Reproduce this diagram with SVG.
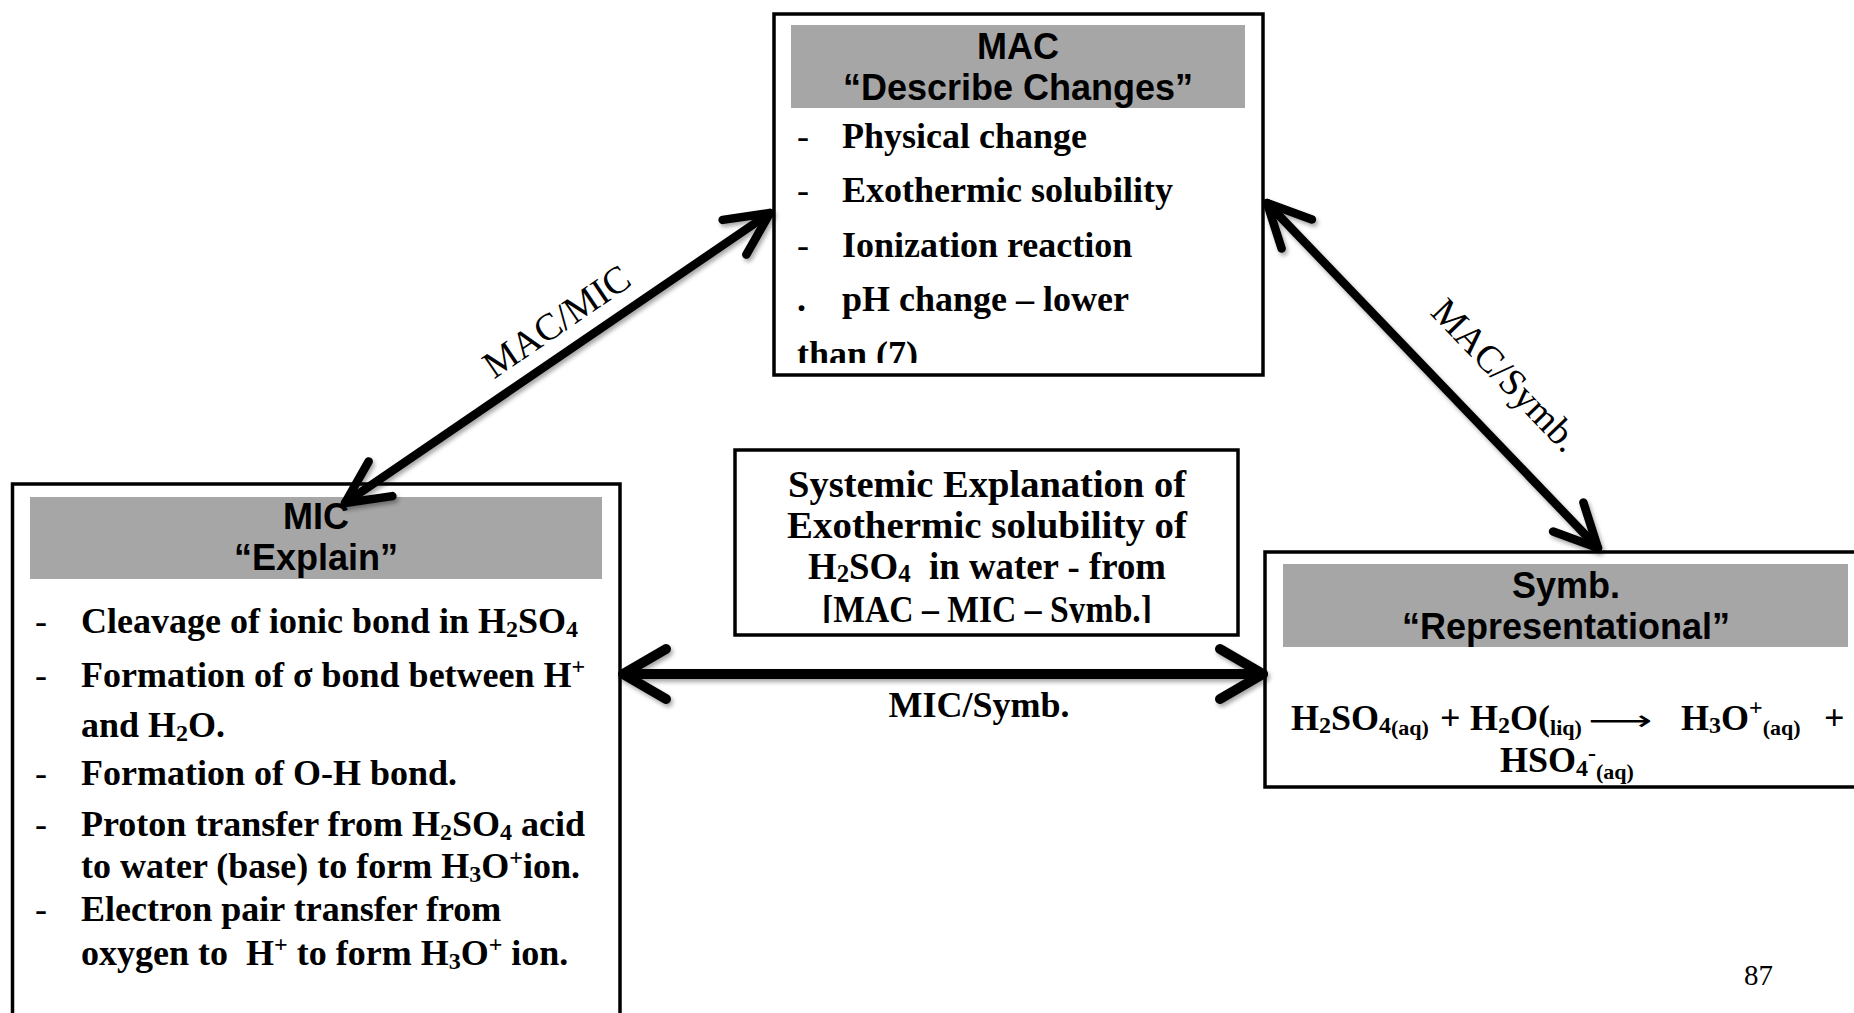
<svg xmlns="http://www.w3.org/2000/svg" width="1854" height="1013" viewBox="0 0 1854 1013">
  <defs>
    <style>
      .box{fill:#fff;stroke:#000;stroke-width:3.5}
      .hdr{fill:#a6a6a6}
      .ht{font-family:"Liberation Sans",Arial,sans-serif;font-weight:bold;font-size:36px;text-anchor:middle;fill:#000}
      .b{font-family:"Liberation Serif","Times New Roman",serif;font-weight:bold;font-size:36px;fill:#000;white-space:pre}
      .dash{font-family:"Liberation Serif","Times New Roman",serif;font-size:36px;fill:#000}
      .sub{font-size:24px}
      .sm{font-size:22px}
      .lbl{font-family:"Liberation Serif","Times New Roman",serif;font-size:38px;fill:#000;text-anchor:middle}
      .cx{font-family:"Liberation Serif","Times New Roman",serif;font-weight:bold;font-size:38.5px;fill:#000;text-anchor:middle;white-space:pre}
      .cxs{font-size:26px}
      .conn{fill:none;stroke:#000;stroke-linecap:round;stroke-linejoin:round}
      .arw{font-family:"DejaVu Sans",sans-serif;font-size:28px;fill:#000}
      .pg{font-family:"Liberation Serif","Times New Roman",serif;font-size:29px;fill:#000}
    </style>
    <!-- open chevron heads for the diagonal and horizontal double arrows -->
    <marker id="head-d" markerUnits="userSpaceOnUse" orient="auto-start-reverse" refX="0" refY="0" markerWidth="1" markerHeight="1" overflow="visible">
      <path d="M-43,-21 L0,0 L-43,21" fill="none" stroke="#000" stroke-width="8.5" stroke-linecap="round" stroke-linejoin="round"/>
    </marker>
    <marker id="head-h" markerUnits="userSpaceOnUse" orient="auto-start-reverse" refX="0" refY="0" markerWidth="1" markerHeight="1" overflow="visible">
      <path d="M-43,-25 L0,0 L-43,25" fill="none" stroke="#000" stroke-width="10" stroke-linecap="round" stroke-linejoin="round"/>
    </marker>
    <filter id="shadow" filterUnits="userSpaceOnUse" x="0" y="0" width="1854" height="1013">
      <feDropShadow dx="2" dy="3" stdDeviation="2" flood-color="#000" flood-opacity="0.35"/>
    </filter>
    <!-- text frames that cut off their overflowing last line -->
    <clipPath id="clip-mac"><rect x="774" y="14" width="489" height="349"/></clipPath>
    <clipPath id="clip-sys"><rect x="735" y="450" width="503" height="173"/></clipPath>
  </defs>

  <rect x="0" y="0" width="1854" height="1013" fill="#fff"/>

  <!-- Macroscopic level -->
  <g id="node-mac">
    <rect class="box" x="774" y="14" width="489" height="361"/>
    <rect class="hdr" x="791" y="25" width="454" height="83"/>
    <text class="ht" x="1018" y="59">MAC</text>
    <text class="ht" x="1018" y="100">“Describe Changes”</text>
    <g clip-path="url(#clip-mac)">
      <text class="dash" x="797" y="148">-</text>
      <text class="b" x="842" y="148">Physical change</text>
      <text class="dash" x="797" y="202">-</text>
      <text class="b" x="842" y="202">Exothermic solubility</text>
      <text class="dash" x="797" y="257">-</text>
      <text class="b" x="842" y="257">Ionization reaction</text>
      <text class="b" x="797" y="311">.</text>
      <text class="b" x="842" y="311">pH change – lower</text>
      <text class="b" x="797" y="366">than (7)</text>
    </g>
  </g>

  <!-- Microscopic level -->
  <g id="node-mic">
    <rect class="box" x="12.5" y="484" width="607.5" height="600"/>
    <rect class="hdr" x="30" y="497" width="572" height="82"/>
    <text class="ht" x="316" y="529">MIC</text>
    <text class="ht" x="316" y="570">“Explain”</text>
    <text class="dash" x="35" y="633">-</text>
    <text class="b" x="81" y="633">Cleavage of ionic bond in H<tspan class="sub" dy="4">2</tspan><tspan dy="-4">SO</tspan><tspan class="sub" dy="4">4</tspan></text>
    <text class="dash" x="35" y="687">-</text>
    <text class="b" x="81" y="687">Formation of σ bond between H<tspan class="sub" dy="-13">+</tspan></text>
    <text class="b" x="81" y="737">and H<tspan class="sub" dy="4">2</tspan><tspan dy="-4">O.</tspan></text>
    <text class="dash" x="35" y="785">-</text>
    <text class="b" x="81" y="785">Formation of O-H bond.</text>
    <text class="dash" x="35" y="836">-</text>
    <text class="b" x="81" y="836">Proton transfer from H<tspan class="sub" dy="4">2</tspan><tspan dy="-4">SO</tspan><tspan class="sub" dy="4">4</tspan><tspan dy="-4"> acid</tspan></text>
    <text class="b" x="81" y="878">to water (base) to form H<tspan class="sub" dy="4">3</tspan><tspan dy="-4">O</tspan><tspan class="sub" dy="-13">+</tspan><tspan dy="13">ion.</tspan></text>
    <text class="dash" x="35" y="921">-</text>
    <text class="b" x="81" y="921">Electron pair transfer from</text>
    <text class="b" x="81" y="965">oxygen to  H<tspan class="sub" dy="-13">+</tspan><tspan dy="13"> to form H</tspan><tspan class="sub" dy="4">3</tspan><tspan dy="-4">O</tspan><tspan class="sub" dy="-13">+</tspan><tspan dy="13"> ion.</tspan></text>
  </g>

  <!-- Systemic explanation -->
  <g id="node-systemic">
    <rect class="box" x="735" y="450" width="503" height="185"/>
    <g clip-path="url(#clip-sys)">
      <text class="cx" x="987" y="497" textLength="398" lengthAdjust="spacingAndGlyphs">Systemic Explanation of</text>
      <text class="cx" x="987" y="538" textLength="400" lengthAdjust="spacingAndGlyphs">Exothermic solubility of</text>
      <text class="cx" x="987" y="579" textLength="358" lengthAdjust="spacingAndGlyphs">H<tspan class="cxs" dy="3">2</tspan><tspan dy="-3">SO</tspan><tspan class="cxs" dy="3">4</tspan><tspan dy="-3">  in water - from</tspan></text>
      <text class="cx" x="987" y="622" textLength="330" lengthAdjust="spacingAndGlyphs">[MAC – MIC – Symb.]</text>
    </g>
  </g>

  <!-- Symbolic level -->
  <g id="node-symb">
    <rect class="box" x="1265" y="552" width="700" height="235"/>
    <rect class="hdr" x="1283" y="564" width="565" height="83"/>
    <text class="ht" x="1566" y="598">Symb.</text>
    <text class="ht" x="1566" y="639">“Representational”</text>
    <text class="b"><tspan x="1291" y="730">H</tspan><tspan class="sub" y="733">2</tspan><tspan y="730">SO</tspan><tspan class="sub" y="733">4</tspan><tspan class="sm" y="735">(aq)</tspan><tspan x="1440" y="730">+</tspan><tspan x="1470" y="730">H</tspan><tspan class="sub" y="733">2</tspan><tspan y="730">O(</tspan><tspan class="sm" y="735">liq)</tspan><tspan x="1681" y="730">H</tspan><tspan class="sub" y="733">3</tspan><tspan y="730">O</tspan><tspan class="sub" y="715">+</tspan><tspan class="sm" y="735">(aq)</tspan><tspan x="1824" y="730">+</tspan></text>
    <text class="arw" x="1588" y="730" textLength="64" lengthAdjust="spacingAndGlyphs">⟶</text>
    <text class="b"><tspan x="1500" y="772">HSO</tspan><tspan class="sub" y="776">4</tspan><tspan class="sub" y="761">-</tspan><tspan class="sm" y="779">(aq)</tspan></text>
  </g>

  <!-- Double-headed links between levels -->
  <g id="connectors" filter="url(#shadow)">
    <path class="conn" d="M345,503 L770,213" stroke-width="8.5" marker-start="url(#head-d)" marker-end="url(#head-d)"/>
    <path class="conn" d="M1267,203 L1598,548" stroke-width="8.5" marker-start="url(#head-d)" marker-end="url(#head-d)"/>
    <path class="conn" d="M623,674 L1263,674" stroke-width="10" marker-start="url(#head-h)" marker-end="url(#head-h)"/>
  </g>
  <g id="connector-labels">
    <text class="lbl" transform="translate(557,322) rotate(-34.3)" x="0" y="12">MAC/MIC</text>
    <text class="lbl" transform="translate(1504,377) rotate(46.2)" x="0" y="10">MAC/Symb.</text>
    <text class="b" x="979" y="717" text-anchor="middle">MIC/Symb.</text>
  </g>

  <text class="pg" x="1744" y="985">87</text>
</svg>
